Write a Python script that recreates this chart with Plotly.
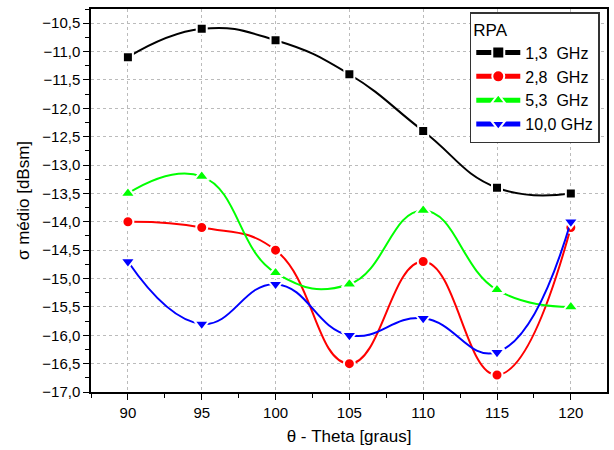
import plotly.graph_objects as go

theta = [90, 95, 100, 105, 110, 115, 120]
s13 = [-11.1, -10.6, -10.8, -11.4, -12.4, -13.4, -13.5]
s28 = [-14.0, -14.1, -14.5, -16.5, -14.7, -16.7, -14.1]
s53 = [-13.5, -13.2, -14.9, -15.1, -13.8, -15.2, -15.5]
s100 = [-14.7, -15.8, -15.1, -16.0, -15.7, -16.3, -14.0]
names = ["1,3  GHz", "2,8  GHz", "5,3  GHz", "10,0 GHz"]
colors = ["#000000", "#FF0000", "#00FF00", "#0000FF"]
symbols = ["square", "circle", "triangle-up", "triangle-down"]
sizes = [10, 11, 13, 13]

fig = go.Figure()
for ys, n, c, s, sz in zip([s13, s28, s53, s100], names, colors, symbols, sizes):
    fig.add_trace(go.Scatter(
        x=theta, y=ys, name=n, mode="lines+markers",
        line=dict(color=c, width=2, shape="spline", smoothing=1.3),
        marker=dict(symbol=s, size=sz, color=c, line=dict(color="white", width=2)),
    ))

axis_common = dict(
    showline=True, linecolor="black", linewidth=1.5, mirror=True,
    ticks="outside", ticklen=6, tickwidth=1.2, tickcolor="black",
    showgrid=True, gridcolor="#BBBBBB", griddash="dot", gridwidth=1,
    zeroline=False, automargin=False,
    tickfont=dict(family="Liberation Sans, Arial", size=15, color="black"),
)
fig.update_xaxes(
    range=[87.5, 122.45], tick0=90, dtick=5,
    minor=dict(dtick=2.5, ticks="outside", ticklen=4, tickcolor="black", showgrid=False),
    title=dict(text="θ - Theta [graus]", font=dict(family="Liberation Sans, Arial", size=17, color="black"), standoff=10),
    **axis_common,
)
fig.update_yaxes(
    range=[-17, -10.25], tick0=-17, dtick=0.5, tickformat=".1f",
    minor=dict(dtick=0.25, ticks="outside", ticklen=4, tickcolor="black", showgrid=False),
    title=dict(text="σ médio [dBsm]", font=dict(family="Liberation Sans, Arial", size=17, color="black"), standoff=8),
    **axis_common,
)
fig.update_layout(
    width=614, height=450, separators=", ",
    margin=dict(l=91, r=7, t=9, b=58),
    plot_bgcolor="white", paper_bgcolor="white",
    font=dict(family="Liberation Sans, Arial", color="black"),
    legend=dict(
        title=dict(text="RPA", font=dict(size=17)),
        x=0.986, y=0.992, xanchor="right", yanchor="top",
        bordercolor="#333333", borderwidth=1.5, bgcolor="white",
        font=dict(size=16), tracegroupgap=0, itemsizing="constant",
        itemwidth=44,
    ),
)
fig.write_html("out.html", config={"responsive": False, "displayModeBar": False},
               post_script="document.body.style.margin='0';document.body.style.overflow='hidden';")
